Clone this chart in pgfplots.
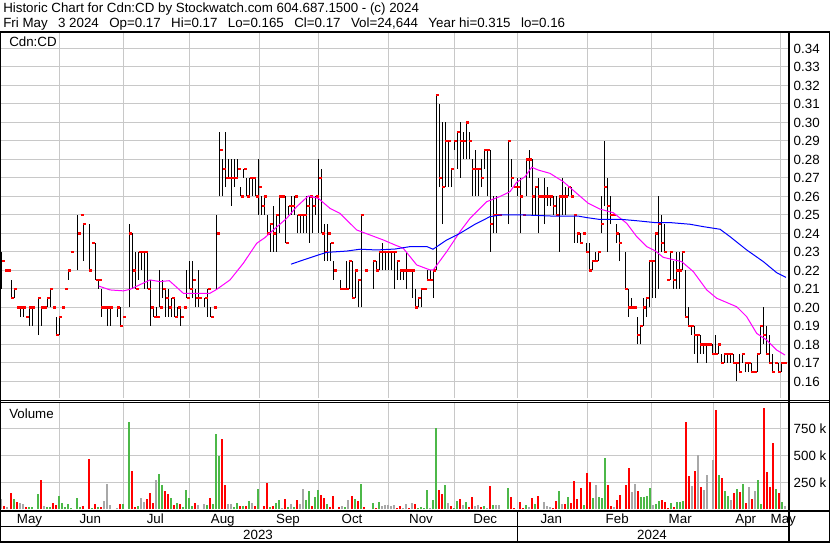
\documentclass[border=0pt]{standalone}
\usepackage{pgfplots}
\pgfplotsset{compat=1.18}
\usepackage{pgfplotstable}
\usepackage{fontspec}
\setmainfont{Liberation Sans}
\definecolor{gridgray}{RGB}{200,200,200}
\definecolor{volgreen}{RGB}{76,184,72}
\definecolor{volred}{RGB}{255,0,0}
\definecolor{volgray}{RGB}{168,168,168}
\definecolor{mablue}{RGB}{0,0,255}
\definecolor{mamag}{RGB}{255,0,255}
\newcommand{\chartfont}{\fontsize{10}{12}\selectfont}
\newcommand{\gap}{\hspace{7.8pt}}

\pgfplotstableread{
x h l c
1.7 0.23 0.21 0.225
5 0.22 0.22 0.22
8 0.22 0.22 0.22
11.3 0.215 0.205 0.205
14.3 0.21 0.205 0.21
17.3 0.20 0.20 0.20
20.3 0.20 0.195 0.20
23.3 0.20 0.195 0.20
26.3 0.195 0.195 0.195
29.3 0.20 0.19 0.20
32.3 0.20 0.19 0.20
38.3 0.205 0.185 0.205
41.3 0.20 0.19 0.20
44.3 0.20 0.20 0.20
47.3 0.205 0.20 0.205
50.3 0.21 0.20 0.21
53.3 0.20 0.20 0.20
56.3 0.195 0.185 0.185
59.3 0.195 0.185 0.195
62.3 0.20 0.20 0.20
65.3 0.21 0.21 0.21
68.3 0.22 0.215 0.22
71.3 0.23 0.23 0.23
77.7 0.25 0.22 0.24
80.7 0.25 0.25 0.25
83.3 0.245 0.225 0.245
89.3 0.245 0.22 0.22
92.3 0.235 0.235 0.235
95.7 0.235 0.215 0.215
98.7 0.215 0.21 0.215
101.3 0.21 0.195 0.20
104.3 0.20 0.20 0.20
107.3 0.20 0.19 0.20
110.3 0.20 0.19 0.20
117.3 0.20 0.195 0.20
120.3 0.20 0.19 0.19
123.3 0.195 0.195 0.195
129.3 0.245 0.20 0.24
132.7 0.24 0.21 0.22
135.7 0.23 0.21 0.21
138.7 0.23 0.215 0.23
141.7 0.23 0.22 0.23
144.7 0.23 0.21 0.23
147.7 0.23 0.21 0.21
150.7 0.215 0.19 0.20
153.7 0.20 0.195 0.195
156.7 0.20 0.195 0.195
159.7 0.22 0.20 0.20
162.7 0.215 0.205 0.21
165.7 0.21 0.195 0.205
168.7 0.21 0.195 0.20
171.7 0.205 0.195 0.205
174.7 0.205 0.195 0.195
177.7 0.20 0.195 0.20
180.7 0.20 0.19 0.195
183.7 0.20 0.20 0.20
186.7 0.22 0.205 0.205
189.7 0.225 0.21 0.21
192.7 0.225 0.205 0.215
195.7 0.21 0.20 0.205
198.7 0.22 0.20 0.205
204.7 0.205 0.20 0.205
207.7 0.21 0.195 0.21
210.7 0.20 0.195 0.195
213.7 0.20 0.20 0.20
216.7 0.25 0.21 0.24
219.7 0.295 0.26 0.285
222.7 0.28 0.26 0.275
225.7 0.295 0.265 0.27
228.7 0.28 0.27 0.27
231.7 0.28 0.255 0.27
234.7 0.28 0.265 0.27
237.7 0.28 0.27 0.275
240.7 0.265 0.26 0.26
243.7 0.275 0.27 0.275
246.7 0.27 0.26 0.26
249.7 0.27 0.26 0.27
252.7 0.27 0.26 0.27
255.7 0.27 0.26 0.26
258.7 0.28 0.25 0.265
261.7 0.26 0.25 0.255
264.3 0.26 0.25 0.26
267.3 0.25 0.24 0.24
270.3 0.245 0.23 0.245
273.3 0.255 0.23 0.24
276.3 0.25 0.23 0.25
279.3 0.26 0.24 0.26
282.3 0.26 0.26 0.26
285.7 0.26 0.235 0.235
288.7 0.255 0.25 0.255
291.7 0.26 0.25 0.255
294.7 0.26 0.25 0.26
297.7 0.25 0.24 0.25
300.7 0.25 0.24 0.25
303.7 0.25 0.24 0.25
306.7 0.26 0.24 0.255
309.7 0.26 0.235 0.26
312.7 0.26 0.24 0.255
315.7 0.26 0.25 0.26
318.7 0.28 0.24 0.27
321.7 0.275 0.24 0.24
324.7 0.245 0.225 0.23
327.7 0.245 0.225 0.24
330.7 0.235 0.225 0.235
333.7 0.225 0.215 0.22
340.3 0.215 0.21 0.21
343.3 0.21 0.21 0.21
346.3 0.225 0.21 0.21
349.3 0.225 0.21 0.225
352.3 0.225 0.205 0.205
355.3 0.22 0.205 0.22
358.3 0.215 0.20 0.215
361.3 0.25 0.20 0.25
364.7 0.22 0.22 0.22
373.3 0.225 0.21 0.225
376.3 0.225 0.22 0.22
379.3 0.23 0.22 0.23
382.3 0.235 0.22 0.23
385.3 0.23 0.22 0.23
388.3 0.23 0.22 0.23
391.3 0.23 0.22 0.23
394.3 0.23 0.21 0.23
397.3 0.225 0.215 0.225
400.3 0.22 0.215 0.22
403.3 0.22 0.215 0.22
406.3 0.23 0.21 0.22
409.3 0.22 0.22 0.22
412.3 0.22 0.205 0.22
415.3 0.21 0.20 0.20
418.3 0.205 0.20 0.205
421.3 0.21 0.20 0.21
424.3 0.21 0.21 0.21
427.3 0.22 0.215 0.215
430.3 0.22 0.215 0.215
433.3 0.22 0.205 0.22
436.3 0.315 0.22 0.315
439.3 0.31 0.265 0.27
442.3 0.30 0.245 0.265
445.3 0.30 0.265 0.29
448.3 0.29 0.265 0.29
451.3 0.275 0.265 0.275
454.3 0.29 0.285 0.29
457.3 0.295 0.275 0.295
460.3 0.30 0.27 0.29
463.3 0.295 0.28 0.29
466.3 0.30 0.28 0.30
469.3 0.295 0.28 0.29
472.3 0.28 0.26 0.275
475.3 0.285 0.26 0.275
478.3 0.275 0.26 0.275
481.3 0.28 0.265 0.27
484.3 0.285 0.275 0.285
487.3 0.285 0.26 0.285
490.3 0.285 0.23 0.245
493.3 0.26 0.24 0.25
496.3 0.26 0.24 0.25
499.3 0.25 0.25 0.25
508.3 0.29 0.245 0.29
511.3 0.28 0.265 0.27
514.3 0.265 0.265 0.265
517.3 0.27 0.26 0.265
520.3 0.27 0.24 0.26
523.3 0.25 0.25 0.25
526.3 0.28 0.26 0.28
529.3 0.285 0.27 0.28
532.3 0.28 0.25 0.26
535.3 0.265 0.25 0.265
538.3 0.27 0.24 0.26
541.3 0.26 0.26 0.26
544.3 0.27 0.245 0.26
547.3 0.265 0.255 0.26
550.3 0.26 0.255 0.26
553.3 0.26 0.25 0.255
556.3 0.26 0.25 0.25
559.3 0.26 0.23 0.26
562.3 0.27 0.25 0.26
565.3 0.265 0.25 0.26
568.3 0.265 0.26 0.265
571.3 0.265 0.26 0.26
574.3 0.25 0.235 0.25
577.3 0.24 0.235 0.24
580.3 0.24 0.235 0.235
583.3 0.24 0.24 0.24
586.3 0.235 0.23 0.23
589.3 0.235 0.22 0.22
592.3 0.225 0.22 0.225
595.3 0.23 0.225 0.225
598.3 0.23 0.225 0.23
601.3 0.26 0.24 0.245
604.3 0.29 0.255 0.265
607.3 0.27 0.23 0.255
610.3 0.26 0.245 0.25
613.3 0.25 0.25 0.25
616.3 0.245 0.235 0.24
619.3 0.24 0.225 0.235
625.3 0.23 0.21 0.21
628.3 0.21 0.195 0.20
631.3 0.205 0.20 0.20
634.3 0.20 0.20 0.20
637.3 0.195 0.18 0.185
640.3 0.19 0.18 0.19
643.3 0.205 0.19 0.20
646.3 0.205 0.195 0.205
649.3 0.225 0.20 0.225
652.3 0.225 0.205 0.225
655.3 0.24 0.205 0.24
658.3 0.26 0.21 0.245
661.3 0.25 0.23 0.235
664.3 0.245 0.23 0.23
667.3 0.215 0.215 0.215
670.3 0.23 0.215 0.23
673.3 0.225 0.21 0.215
676.3 0.23 0.21 0.22
679.3 0.23 0.21 0.22
682.3 0.23 0.22 0.23
685.3 0.22 0.195 0.195
688.3 0.20 0.19 0.19
691.3 0.19 0.185 0.19
694.3 0.19 0.175 0.185
697.3 0.185 0.17 0.185
700.3 0.185 0.175 0.18
703.3 0.18 0.175 0.18
706.3 0.18 0.17 0.18
709.3 0.18 0.18 0.18
712.3 0.18 0.175 0.175
715.3 0.185 0.175 0.175
718.3 0.18 0.175 0.18
721.3 0.175 0.17 0.17
724.3 0.175 0.17 0.175
727.3 0.175 0.17 0.175
730.3 0.175 0.17 0.175
733.3 0.175 0.17 0.17
736.3 0.17 0.16 0.17
739.3 0.175 0.165 0.165
742.3 0.175 0.17 0.175
745.3 0.17 0.165 0.17
748.3 0.17 0.165 0.17
751.3 0.17 0.165 0.165
754.3 0.165 0.165 0.165
757.3 0.175 0.165 0.175
760.3 0.19 0.175 0.19
763.3 0.20 0.18 0.185
766.3 0.19 0.175 0.175
769.3 0.185 0.17 0.17
772.3 0.175 0.165 0.165
775.3 0.17 0.17 0.17
778.3 0.17 0.165 0.165
781.3 0.17 0.165 0.17
784.3 0.17 0.17 0.17
}\price

\pgfplotstableread{
x p
98.7 0.2116
110 0.2095
123.3 0.209
130 0.2098
150 0.2149
160 0.214
169.3 0.2145
183.3 0.2077
210 0.2077
216.7 0.2098
230 0.2149
243.3 0.2239
256.7 0.2347
265 0.2378
273.3 0.2419
286.7 0.2482
296.7 0.2545
308.3 0.2603
318.3 0.259
330 0.2536
340 0.2509
356.7 0.2419
370 0.2392
383.3 0.2365
395 0.2338
403.3 0.232
416.7 0.223
430 0.2203
433.3 0.2203
446.7 0.2302
460 0.241
470 0.2482
486.7 0.2572
500 0.26
510 0.2626
516.7 0.2677
525 0.2707
531.7 0.2758
538.3 0.2743
550 0.2725
563.3 0.268
576.7 0.2617
588.3 0.2563
600 0.2532
613.3 0.2512
626.7 0.2455
636.7 0.2383
646.7 0.2329
655 0.2307
663.3 0.2271
681.7 0.2248
693.3 0.2194
706.7 0.2095
716.7 0.205
736.7 0.2004
746.7 0.195
756.7 0.186
766.7 0.1824
776.7 0.177
785 0.1743
}\maA

\pgfplotstableread{
x p
291 0.2234
303.3 0.2257
318.3 0.2284
326.7 0.2298
346.7 0.2305
360 0.2315
376.7 0.2311
395 0.2316
410 0.2329
427 0.2329
433 0.2315
446.7 0.2365
460 0.2401
475 0.245
490 0.2491
500 0.25
525 0.25
553 0.2494
578.3 0.2494
586.7 0.2486
598.3 0.2477
620 0.2477
636.7 0.2469
655 0.2459
670 0.2459
690 0.245
703.3 0.2437
720 0.2423
730 0.2383
746.7 0.2311
763.3 0.2248
776.7 0.2188
786 0.2163
}\maB

\pgfplotstableread{
x v
13.7 96
28.7 22
31.7 22
37.7 142
46.7 22
49.7 22
58.7 124
61.7 59
64.7 19
67.7 49
70.7 15
76.7 105
79.7 19
91.7 12
97.7 22
122.7 49
128.7 810
137.7 31
158.7 327
161.7 225
170.7 105
176.7 59
182.7 22
185.7 179
188.7 105
191.7 31
206.7 40
212.7 49
215.7 698
218.7 494
233.7 22
236.7 59
242.7 31
248.7 77
257.7 188
269.7 22
275.7 59
278.7 86
287.7 22
293.7 22
305.7 86
308.7 170
314.7 114
317.7 179
326.7 49
344.7 22
354.7 96
360.7 235
372.7 59
378.7 68
417.7 12
420.7 22
423.7 12
426.7 179
432.7 86
435.7 751
444.7 225
453.7 12
456.7 77
465.7 68
483.7 31
492.7 40
507.7 198
525.7 40
534.7 49
558.7 170
567.7 114
583.7 40
592.7 105
598.7 114
601.7 105
604.7 476
640.7 114
643.7 114
646.7 124
649.7 198
655.7 49
658.7 77
670.7 59
676.7 68
679.7 68
682.7 77
718.7 318
724.7 170
727.7 124
736.7 188
742.7 235
757.7 272
760.7 49
775.7 188
781.7 68
}\volG

\pgfplotstableread{
x v
4.3 31
10.7 151
16.7 68
25.7 25
40.7 272
52.7 59
55.7 40
82.7 31
88.7 467
94.7 49
100.7 22
119.7 49
131.7 355
134.7 22
146.7 96
149.7 151
152.7 59
164.7 170
167.7 142
173.7 40
179.7 49
194.7 59
209.7 105
221.7 652
224.7 225
239.7 31
245.7 31
254.7 31
263.7 31
266.7 244
272.7 31
284.7 96
296.7 86
311.7 31
320.7 133
323.7 105
329.7 22
332.7 124
338.7 22
351.7 124
357.7 77
363.7 22
375.7 12
396.7 12
399.7 31
408.7 12
414.7 49
438.7 179
441.7 142
450.7 31
459.7 96
468.7 22
471.7 114
480.7 22
489.7 216
510.7 114
513.7 12
519.7 68
522.7 12
531.7 105
537.7 124
552.7 12
555.7 77
564.7 49
570.7 59
573.7 263
576.7 96
580.7 198
586.7 337
589.7 253
607.7 225
610.7 31
616.7 86
619.7 133
625.7 225
628.7 383
637.7 170
661.7 86
664.7 68
667.7 12
673.7 22
685.7 810
688.7 309
694.7 355
700.7 207
715.7 921
721.7 290
733.7 151
739.7 161
745.7 59
751.7 96
763.7 939
766.7 346
769.7 207
772.7 615
778.7 151
}\volR

\pgfplotstableread{
x v
1.0 96
7.3 25
19.7 59
22.7 46
43.7 31
103.7 77
106.7 235
109.7 40
116.7 12
140.7 105
143.7 68
155.7 272
197.7 40
203.7 49
227.7 49
230.7 49
251.7 59
281.7 12
290.7 49
299.7 49
302.7 188
341.7 31
347.7 86
381.7 31
384.7 40
387.7 40
390.7 31
393.7 40
402.7 12
405.7 49
411.7 59
429.7 12
447.7 59
462.7 40
474.7 31
477.7 40
486.7 12
495.7 40
498.7 40
528.7 22
543.7 68
546.7 31
549.7 22
561.7 49
595.7 225
613.7 22
631.7 161
634.7 235
652.7 40
691.7 216
697.7 504
703.7 179
706.7 318
712.7 457
730.7 86
748.7 207
754.7 170
784.7 31
}\volGy

\pgfplotsset{
  chartbase/.style={
    scale only axis, anchor=south west,
    xmin=0, xmax=789,
    axis line style={draw=none},
    xtick={59,123,189,259,318,388,454,517,587,651,713,780},
    xticklabels={},
    grid=major,
    grid style={color=gridgray, line width=0.75pt},
    major tick length=0pt,
    yticklabel pos=right,
    ticklabel style={font=\chartfont, text=black},
    yticklabel style={anchor=west},
  }
}

\begin{document}
\begin{tikzpicture}
\path[use as bounding box] (0pt,0pt) rectangle (622.5pt,407.25pt);

% price panel
\begin{axis}[chartbase,
  at={(0pt,108.75pt)}, width=591.75pt, height=273.75pt,
  ymin=0.15108, ymax=0.34838,
  ytick={0.16,0.17,0.18,0.19,0.20,0.21,0.22,0.23,0.24,0.25,0.26,0.27,0.28,0.29,0.30,0.31,0.32,0.33,0.34},
  yticklabels={0.16,0.17,0.18,0.19,0.20,0.21,0.22,0.23,0.24,0.25,0.26,0.27,0.28,0.29,0.30,0.31,0.32,0.33,0.34},
]
\addplot[draw=none, mark=none,
  error bars/.cd, y dir=plus, y explicit, error mark=none,
  error bar style={draw=black, line width=0.8pt}]
  table[x=x, y=l, y error expr=\thisrow{h}-\thisrow{l}] {\price};
\addplot[draw=none, mark=none,
  error bars/.cd, x dir=plus, x fixed=3, error mark=none,
  error bar style={draw=red, line width=1.6pt}]
  table[x=x, y=c] {\price};
\addplot[mamag, line width=0.75pt] table[x=x, y=p] {\maA};
\addplot[mablue, line width=0.75pt] table[x=x, y=p] {\maB};
\end{axis}

% volume panel
\begin{axis}[chartbase,
  at={(0pt,25.275pt)}, width=591.75pt, height=80.5pt,
  ymin=0, ymax=994,
  ytick={250,500,750},
  yticklabels={250 k,500 k,750 k},
]
\addplot[ycomb, volgreen, line width=1.6pt] table[x=x, y=v] {\volG};
\addplot[ycomb, volred, line width=1.6pt] table[x=x, y=v] {\volR};
\addplot[ycomb, volgray, line width=1.6pt] table[x=x, y=v] {\volGy};
\end{axis}

\begin{scope}[x=0.75pt, y=0.75pt]
% texts
\node[anchor=base west, inner sep=0pt, font=\chartfont] at (3,530.3)
  {Historic Chart for Cdn:CD by Stockwatch.com 604.687.1500 - (c) 2024};
\node[anchor=base west, inner sep=0pt, font=\chartfont] at (3,515.7)
  {Fri May\gap 3 2024\gap Op=0.17\gap Hi=0.17\gap Lo=0.165\gap Cl=0.17\gap Vol=24,644\gap Year hi=0.315\gap lo=0.16};
\node[anchor=base west, inner sep=0pt, font=\chartfont] at (9,496.5) {Cdn:CD};
\node[anchor=base west, inner sep=0pt, font=\chartfont] at (9,125) {Volume};
\foreach \cx/\m in {29.5/May,90.3/Jun,155.3/Jul,222.8/Aug,288/Sep,352/Oct,421/Nov,485.3/Dec,551.3/Jan,617.2/Feb,680.2/Mar,745.8/Apr,783.3/May}
  \node[anchor=base, inner sep=0pt, font=\chartfont] at (\cx,19.5) {\m};
\node[anchor=base, inner sep=0pt, font=\chartfont] at (258,3.7) {2023};
\node[anchor=base, inner sep=0pt, font=\chartfont] at (652,3.7) {2024};
% frame lines
\draw[line width=1.1pt] (0,511) -- (830,511);
\draw[line width=1.1pt] (0.75,511) -- (0.75,0);
\draw[line width=1.1pt] (829.25,511) -- (829.25,0);
\draw[line width=1.5pt] (0,1.2) -- (830,1.2);
\draw[line width=0.75pt] (0,142.7) -- (830,142.7);
\draw[line width=0.75pt] (0,141) -- (830,141);
\draw[line width=1.5pt] (0,32) -- (830,32);
\draw[line width=1.1pt] (0,16.3) -- (789,16.3);
\draw[line width=1.5pt] (789,0) -- (789,511);
\draw[line width=1.1pt] (517.3,0) -- (517.3,32);
\end{scope}
\end{tikzpicture}
\end{document}
